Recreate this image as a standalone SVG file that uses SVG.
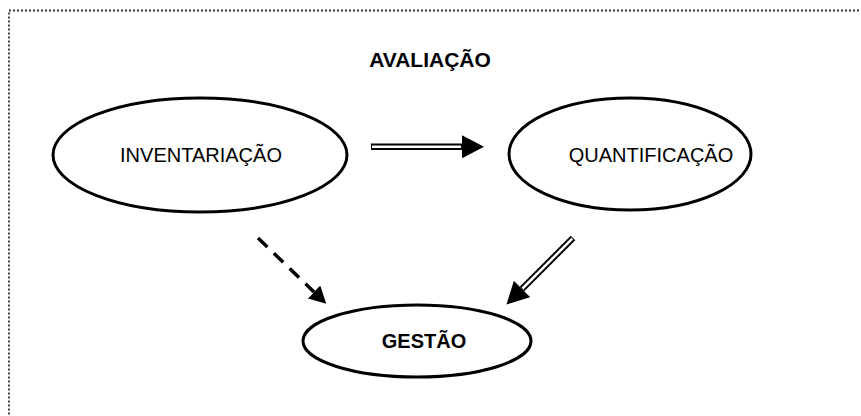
<svg xmlns="http://www.w3.org/2000/svg" width="861" height="416" viewBox="0 0 861 416">
<style>
  .node ellipse { fill: #fff; stroke: #000; stroke-width: 3; }
  .lbl { font-family: "Liberation Sans", Arial, sans-serif; font-size: 20px; fill: #000; text-anchor: middle; }
  .b { font-weight: bold; }
  .dbl-out { stroke: #000; stroke-width: 6.5; fill: none; }
  .dbl-in { stroke: #fff; stroke-width: 2.5; fill: none; }
  .dash { stroke: #000; stroke-width: 3.5; fill: none; stroke-dasharray: 13 9; }
</style>
<defs>
  <marker id="head" markerUnits="userSpaceOnUse" markerWidth="22" markerHeight="23" viewBox="0 0 22 23" refX="0" refY="11.5" orient="auto">
    <path d="M0,0 L22,11.5 L0,23 z" fill="#000"/>
  </marker>
  <marker id="headS" markerUnits="userSpaceOnUse" markerWidth="17" markerHeight="18" viewBox="0 0 17 18" refX="0" refY="9" orient="auto">
    <path d="M0,0 L17,9 L0,18 z" fill="#000"/>
  </marker>
</defs>
<rect width="861" height="416" fill="#fff"/>
<rect x="9" y="10.5" width="900" height="450" fill="none" stroke="#333" stroke-width="1.8" stroke-dasharray="2 2"/>
<text class="lbl b" x="430" y="67" style="font-size:21px">AVALIAÇÃO</text>
<g id="connectors">
  <path class="dbl-out" d="M371,146.8 L462,146.8" marker-end="url(#head)"/>
  <path class="dbl-in" d="M372,146.8 L461,146.8"/>
  <path class="dbl-out" d="M573,238 L522,289" marker-end="url(#head)"/>
  <path class="dbl-in" d="M572.3,238.7 L522.5,288.5"/>
  <path class="dash" d="M258,238 L314,292" marker-end="url(#headS)"/>
</g>
<g id="inventariacao" class="node">
  <ellipse cx="200" cy="155" rx="147" ry="57"/>
  <text class="lbl" x="201" y="162">INVENTARIAÇÃO</text>
</g>
<g id="quantificacao" class="node">
  <ellipse cx="630" cy="154" rx="121" ry="56"/>
  <text class="lbl" x="651" y="162">QUANTIFICAÇÃO</text>
</g>
<g id="gestao" class="node">
  <ellipse cx="417" cy="341" rx="114" ry="36"/>
  <text class="lbl b" x="424" y="348">GESTÃO</text>
</g>
</svg>
